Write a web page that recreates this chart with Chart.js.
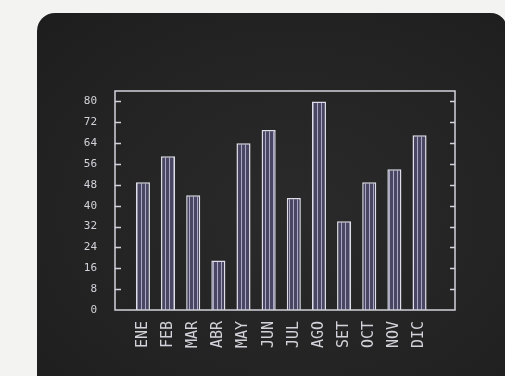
<!DOCTYPE html>
<html>
<head>
<meta charset="utf-8">
<script src="https://cdn.jsdelivr.net/npm/chart.js@4.4.1/dist/chart.umd.min.js"></script>
<style>
  html, body { margin: 0; padding: 0; background: #f3f3f1; overflow: hidden; }
  .wrap { position: relative; width: 505px; height: 376px; }
  .screen {
    position: absolute; left: 37px; top: 13px; width: 470px; height: 400px;
    border-radius: 18px 16px 0 0;
    background: radial-gradient(ellipse at 55% 50%, #2a2a2a 0%, #232323 60%, #1d1d1d 100%);
  }
  canvas { position: absolute; left: 0; top: 0; }
</style>
</head>
<body>
<div class="wrap">
  <div class="screen"></div>
  <canvas id="chart" width="505" height="376"></canvas>
</div>
<script>
const months = ['ENE', 'FEB', 'MAR', 'ABR', 'MAY', 'JUN', 'JUL', 'AGO', 'SET', 'OCT', 'NOV', 'DIC'];
const values = [49, 59, 44, 19, 64, 69, 43, 80, 34, 49, 54, 67];
const yTicks = [0, 8, 16, 24, 32, 40, 48, 56, 64, 72, 80];

const ink = '#d2d2da';

// relleno rayado tipo CRT
function stripePattern(ctx) {
  const c = document.createElement('canvas');
  c.width = 4; c.height = 1;
  const p = c.getContext('2d');
  p.fillStyle = '#4a4662';
  p.fillRect(0, 0, 4, 1);
  p.fillStyle = '#aaa8c8';
  p.fillRect(1, 0, 1, 1);
  return ctx.createPattern(c, 'repeat');
}

// marco y marcas hacia adentro
const framePlugin = {
  id: 'frame',
  afterDatasetsDraw(chart) {
    const { ctx, chartArea: a, scales } = chart;
    ctx.save();
    ctx.strokeStyle = ink;
    ctx.lineWidth = 1.5;
    ctx.strokeRect(a.left, a.top, a.right - a.left, a.bottom - a.top);
    ctx.beginPath();
    yTicks.forEach(v => {
      if (v === 0) return;
      const y = Math.round(scales.y.getPixelForValue(v)) + 0.5;
      ctx.moveTo(a.left, y); ctx.lineTo(a.left + 6, y);
      ctx.moveTo(a.right - 5, y); ctx.lineTo(a.right, y);
    });
    ctx.stroke();
    ctx.restore();
  }
};

const ctx = document.getElementById('chart').getContext('2d');

new Chart(ctx, {
  type: 'bar',
  data: {
    datasets: [{
      data: months.map((m, i) => ({ x: i + 1, y: values[i] })),
      backgroundColor: stripePattern(ctx),
      borderColor: '#dedeea',
      borderWidth: 1.5,
      barPercentage: 0.56,
      categoryPercentage: 1.0
    }]
  },
  options: {
    responsive: false,
    animation: false,
    layout: { padding: { left: 0, right: 50, top: 91, bottom: 0 } },
    plugins: { legend: { display: false }, tooltip: { enabled: false } },
    scales: {
      x: {
        type: 'linear',
        min: -0.11,
        max: 13.41,
        offset: false,
        grid: { display: false, offset: false },
        border: { display: false },
        afterBuildTicks(scale) {
          scale.ticks = months.map((m, i) => ({ value: i + 1 }));
        },
        afterFit(scale) { scale.height = 66; },
        ticks: {
          autoSkip: false,
          maxRotation: 90,
          minRotation: 90,
          padding: 3,
          color: ink,
          font: { family: 'DejaVu Sans Mono', size: 15 },
          callback: v => months[v - 1] || ''
        }
      },
      y: {
        min: 0,
        max: 84,
        grid: { display: false },
        border: { display: false },
        afterBuildTicks(scale) {
          scale.ticks = yTicks.map(v => ({ value: v }));
        },
        afterFit(scale) { scale.width = 115; },
        ticks: {
          padding: 10,
          color: ink,
          font: { family: 'DejaVu Sans Mono', size: 11 }
        }
      }
    }
  },
  plugins: [framePlugin]
});
</script>
</body>
</html>
